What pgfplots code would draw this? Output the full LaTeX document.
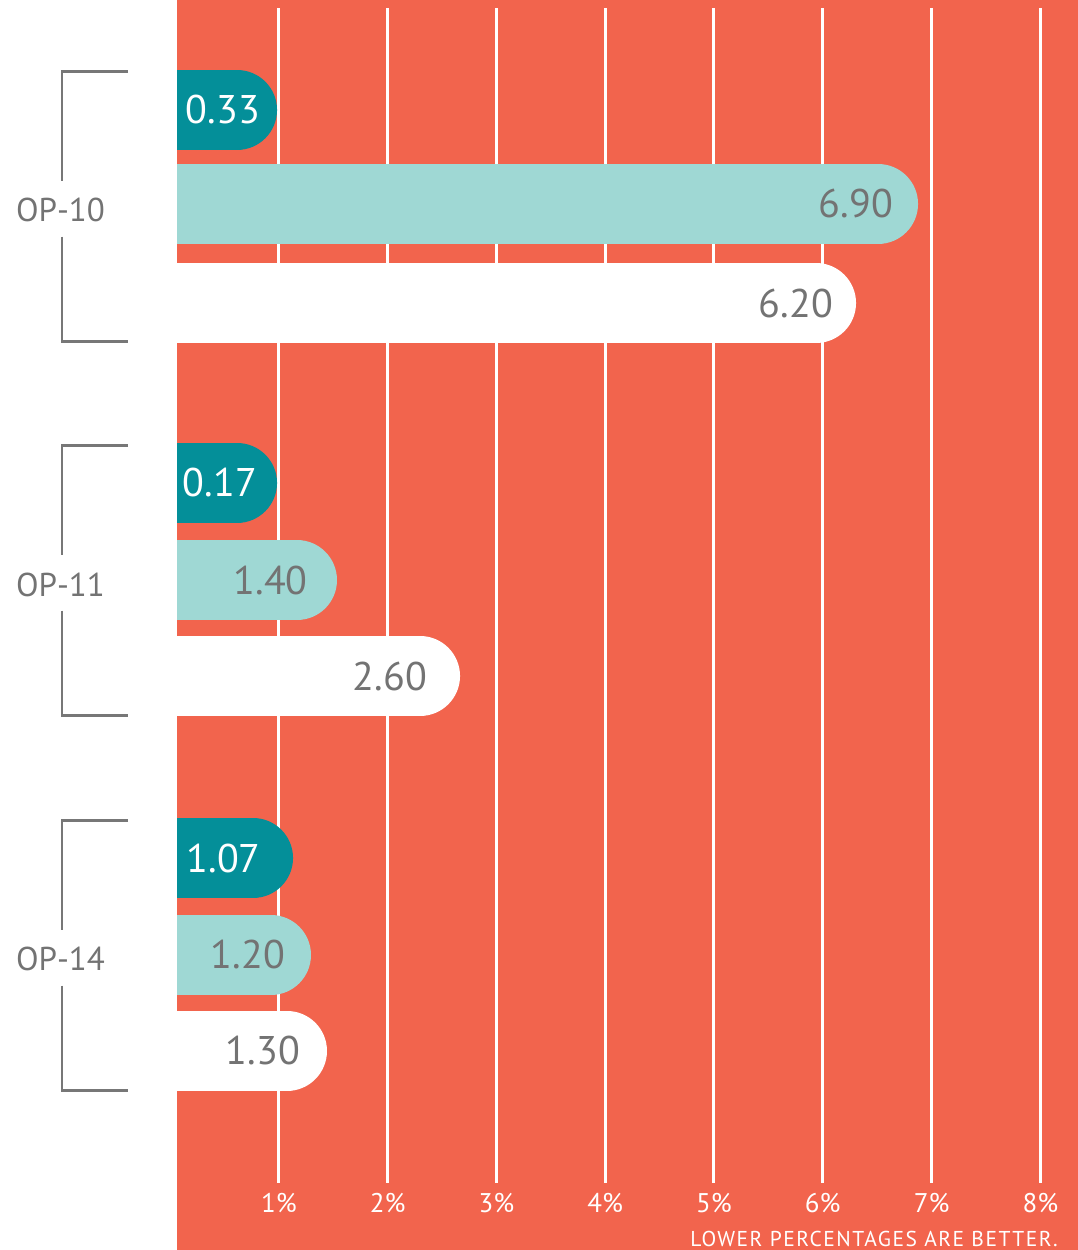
\documentclass[border=0pt]{standalone}
\usepackage{fontspec}
\setmainfont{PT Sans}
\usepackage{pgfplots}
\pgfplotsset{compat=1.18}

\definecolor{bgred}{HTML}{F2644D}
\definecolor{darkteal}{HTML}{048F99}
\definecolor{lightteal}{HTML}{9FD8D4}
\definecolor{txtgray}{HTML}{737373}
\definecolor{brgray}{HTML}{777777}

\begin{document}
\begin{tikzpicture}
% red panel behind the plot
\fill[bgred] (177pt,0pt) rectangle (1078pt,1250pt);

\begin{axis}[
  at={(177pt,67pt)}, anchor=south west,
  scale only axis, width=901pt, height=1175pt,
  xmin=0.064, xmax=8.346,
  ymin=-0.528, ymax=2.610, y dir=reverse,
  axis line style={draw=none}, tick style={draw=none},
  xtick={1,...,8},
  xticklabels={1\%,2\%,3\%,4\%,5\%,6\%,7\%,8\%},
  xmajorgrids, major grid style={white, line width=3pt},
  ytick={0,1,2}, yticklabels={OP-10,OP-11,OP-14},
  xticklabel style={anchor=base, yshift=-29pt, text=white,
    font=\fontsize{27}{27}\selectfont},
  yticklabel style={anchor=base, xshift=-116.5pt, yshift=-16pt, text=txtgray,
    font=\fontsize{33}{33}\selectfont},
  unbounded coords=jump,
  bar/.style={line width=80pt, line cap=round, mark=none},
  lab/.style={draw=none, mark=none, nodes near coords,
    point meta=explicit symbolic,
    nodes near coords style={anchor=east, inner sep=0pt, text=#1,
      font=\fontsize{40}{40}\selectfont}},
]
% bars: a thick line with round cap; x = drawn end minus cap radius
\addplot[bar, draw=darkteal] coordinates {
  (-1,-0.256) (0.616,-0.256) (nan,nan)
  (-1,0.740) (0.616,0.740) (nan,nan)
  (-1,1.742) (0.763,1.742)};
\addplot[bar, draw=lightteal] coordinates {
  (-1,-0.005) (6.508,-0.005) (nan,nan)
  (-1,1.000) (1.167,1.000) (nan,nan)
  (-1,2.001) (0.928,2.001)};
\addplot[bar, draw=white] coordinates {
  (-1,0.260) (5.938,0.260) (nan,nan)
  (-1,1.256) (2.298,1.256) (nan,nan)
  (-1,2.257) (1.075,2.257)};

% value labels
\addplot[lab=white] coordinates {
  (0.827,-0.256) [0.33] (0.800,0.740) [0.17] (0.836,1.742) [1.07]};
\addplot[lab=txtgray] coordinates {
  (6.646,-0.005) [6.90] (1.268,1.000) [1.40] (1.057,2.001) [1.20]};
\addplot[lab=txtgray] coordinates {
  (6.094,0.260) [6.20] (2.362,1.256) [2.60] (1.195,2.257) [1.30]};
\end{axis}

% group brackets
\foreach \c in {205.7,579.7,954.7}{
  \pgfmathsetmacro\t{1250-\c+134}
  \pgfmathsetmacro\a{1250-\c+25}
  \pgfmathsetmacro\b{1250-\c-31}
  \pgfmathsetmacro\u{1250-\c-136}
  \draw[brgray, line width=2.5pt] (128pt,\t pt) -- (62pt,\t pt) -- (62pt,\a pt);
  \draw[brgray, line width=2.5pt] (62pt,\b pt) -- (62pt,\u pt) -- (128pt,\u pt);
}

\node[anchor=base east, inner sep=0pt, text=white,
  font=\fontsize{21.5}{22}\selectfont\addfontfeatures{LetterSpace=7}]
  at (1058pt,4pt) {LOWER PERCENTAGES ARE BETTER.};

\pgfresetboundingbox
\useasboundingbox (0pt,0pt) rectangle (1078pt,1250pt);
\end{tikzpicture}
\end{document}
